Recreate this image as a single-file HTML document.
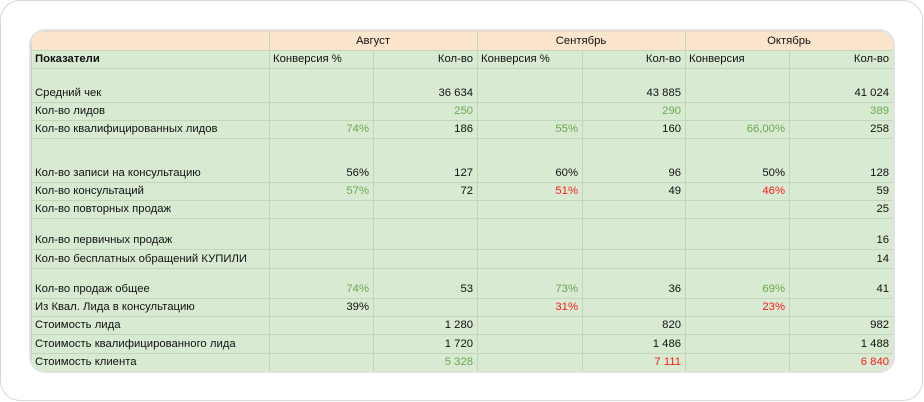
<!DOCTYPE html>
<html><head><meta charset="utf-8"><style>
html,body{margin:0;padding:0;background:#fff;}
body{width:924px;height:402px;position:relative;overflow:hidden;font-family:"Liberation Sans",Arial,sans-serif;}
.card{position:absolute;left:0px;top:0px;width:923px;height:401px;border:1.5px solid #d8d8d8;border-radius:20px;box-sizing:border-box;}
.wrap{position:absolute;left:31px;top:31px;width:862px;height:340px;border-radius:14px;overflow:hidden;box-shadow:0 0 0 2px #e2e2e2;background:#d9ead3;}
table{border-collapse:collapse;table-layout:fixed;width:862px;font-size:11.3px;color:#111;}
td{border:1.5px solid #c3d5bb;padding:0 4px 2px 3px;vertical-align:bottom;white-space:nowrap;overflow:hidden;line-height:13px;background:#d9ead3;}
tr.h td{background:#fce5cd;text-align:center;border-color:#f0d6bd #c3d5bb #c3d5bb #e3d2bb;}
.r{text-align:right;}
.g{color:#6aa84f;}
.red{color:#ff1a1a;}
b{font-weight:bold;}
</style></head><body>
<div class="card"></div>
<div class="wrap">
<table>
<colgroup><col style="width:238px"><col style="width:104px"><col style="width:104px"><col style="width:105px"><col style="width:103px"><col style="width:104px"><col style="width:104px"></colgroup>
<tr class="h" style="height:19px"><td></td><td colspan="2">Август</td><td colspan="2">Сентябрь</td><td colspan="2">Октябрь</td></tr>
<tr style="height:18px"><td><b>Показатели</b></td><td>Конверсия %</td><td class="r">Кол-во</td><td>Конверсия %</td><td class="r">Кол-во</td><td>Конверсия</td><td class="r">Кол-во</td></tr>
<tr style="height:34px"><td>Средний чек</td><td></td><td class="r">36 634</td><td></td><td class="r">43 885</td><td></td><td class="r">41 024</td></tr>
<tr style="height:18px"><td>Кол-во лидов</td><td></td><td class="r g">250</td><td></td><td class="r g">290</td><td></td><td class="r g">389</td></tr>
<tr style="height:18px"><td>Кол-во квалифицированных лидов</td><td class="r g">74%</td><td class="r">186</td><td class="r g">55%</td><td class="r">160</td><td class="r g">66,00%</td><td class="r">258</td></tr>
<tr style="height:44px"><td>Кол-во записи на консультацию</td><td class="r">56%</td><td class="r">127</td><td class="r">60%</td><td class="r">96</td><td class="r">50%</td><td class="r">128</td></tr>
<tr style="height:18px"><td>Кол-во консультаций</td><td class="r g">57%</td><td class="r">72</td><td class="r red">51%</td><td class="r">49</td><td class="r red">46%</td><td class="r">59</td></tr>
<tr style="height:18px"><td>Кол-во повторных продаж</td><td></td><td></td><td></td><td></td><td></td><td class="r">25</td></tr>
<tr style="height:31px"><td>Кол-во первичных продаж</td><td></td><td></td><td></td><td></td><td></td><td class="r">16</td></tr>
<tr style="height:19px"><td>Кол-во бесплатных обращений КУПИЛИ</td><td></td><td></td><td></td><td></td><td></td><td class="r">14</td></tr>
<tr style="height:30px"><td>Кол-во продаж общее</td><td class="r g">74%</td><td class="r">53</td><td class="r g">73%</td><td class="r">36</td><td class="r g">69%</td><td class="r">41</td></tr>
<tr style="height:18px"><td>Из Квал. Лида в консультацию</td><td class="r">39%</td><td></td><td class="r red">31%</td><td></td><td class="r red">23%</td><td></td></tr>
<tr style="height:18px"><td>Стоимость лида</td><td></td><td class="r">1 280</td><td></td><td class="r">820</td><td></td><td class="r">982</td></tr>
<tr style="height:19px"><td>Стоимость квалифицированного лида</td><td></td><td class="r">1 720</td><td></td><td class="r">1 486</td><td></td><td class="r">1 488</td></tr>
<tr style="height:18px"><td>Стоимость клиента</td><td></td><td class="r g">5 328</td><td></td><td class="r red">7 111</td><td></td><td class="r red">6 840</td></tr>
</table>
</div>
</body></html>
